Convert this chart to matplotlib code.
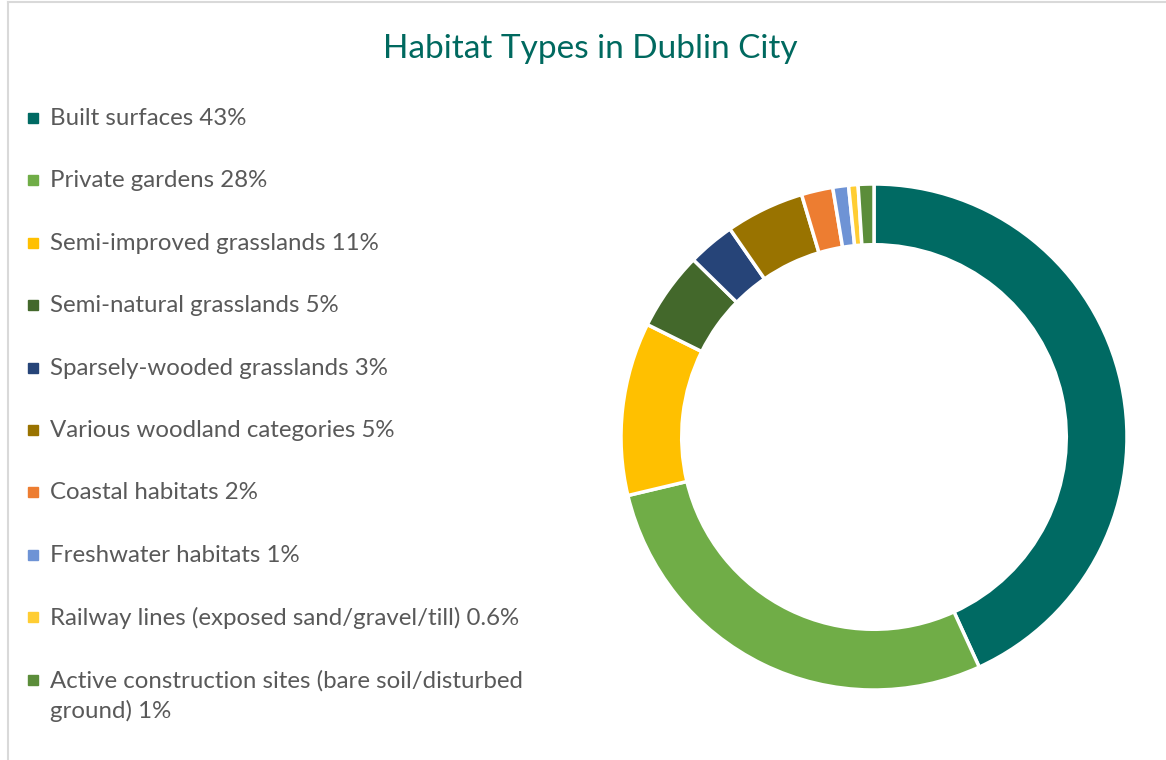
import matplotlib.pyplot as plt
from matplotlib.patches import Rectangle
from matplotlib.lines import Line2D

plt.rcParams['font.family'] = ['Lato', 'DejaVu Sans']

# habitat data
habitats = ['Built surfaces', 'Private gardens', 'Semi-improved grasslands',
            'Semi-natural grasslands', 'Sparsely-wooded grasslands',
            'Various woodland categories', 'Coastal habitats',
            'Freshwater habitats', 'Railway lines (exposed sand/gravel/till)',
            'Active construction sites (bare soil/disturbed\nground)']
shares = [43, 28, 11, 5, 3, 5, 2, 1, 0.6, 1]
share_labels = ['43%', '28%', '11%', '5%', '3%', '5%', '2%', '1%', '0.6%', '1%']
colors = ['#006A63', '#70AD47', '#FFC000', '#43682B', '#264478',
          '#997300', '#ED7D31', '#6E93D5', '#FFCD33', '#5B8D3A']

W, H = 1166, 760
fig = plt.figure(figsize=(W / 100, H / 100), dpi=100)

# chart frame (left and top edges visible)
fig.add_artist(Line2D([8 / W, 8 / W], [0, 1 - 2 / H], color='#D9D9D9', lw=1.5))
fig.add_artist(Line2D([8 / W, 1], [1 - 2 / H, 1 - 2 / H], color='#D9D9D9', lw=1.5))

fig.text(590 / W, 1 - 49 / H, 'Habitat Types in Dublin City', ha='center', va='center',
         fontsize=24, color='#00695F')

# donut
cx, cy, r = 874, 437, 253
ax = fig.add_axes([(cx - r) / W, (H - cy - r) / H, 2 * r / W, 2 * r / H])
ax.pie(shares, colors=colors, startangle=90, counterclock=False, radius=1,
       wedgeprops=dict(width=0.24, edgecolor='white', linewidth=2.5))
ax.set_xlim(-1.0, 1.0)
ax.set_ylim(-1.0, 1.0)
ax.set_aspect('equal')
ax.axis('off')

# legend
y0, dy = 118, 62.4
for i, (name, lab, c) in enumerate(zip(habitats, share_labels, colors)):
    y = y0 + i * dy
    fig.add_artist(Rectangle((28 / W, 1 - (y + 5) / H), 10 / W, 10 / H,
                             transform=fig.transFigure, color=c))
    fig.text(50 / W, 1 - (y - 10) / H, name + ' ' + lab, ha='left', va='top',
             fontsize=17.3, color='#595959', linespacing=1.5)

fig.savefig('out.png', dpi=100)
